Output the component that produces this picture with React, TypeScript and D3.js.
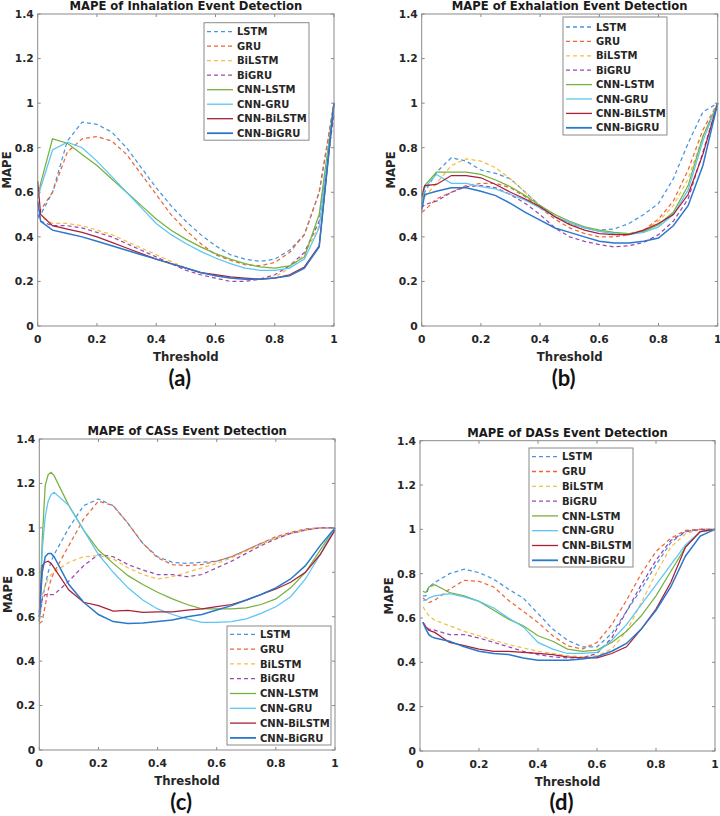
import * as d3 from 'd3';

// model order, colours and line styles as in the legends
const modelNames = ['LSTM', 'GRU', 'BiLSTM', 'BiGRU', 'CNN-LSTM', 'CNN-GRU', 'CNN-BiLSTM', 'CNN-BiGRU'];
const modelColors = ['#4a94dc', '#ee6636', '#f4bf48', '#9a48b4', '#78b040', '#5cc6f2', '#a8203a', '#2a78cc'];
const modelDashed = [true, true, true, true, false, false, false, false];

const xTicks = [0, 0.2, 0.4, 0.6, 0.8, 1];
const yTicks = [0, 0.2, 0.4, 0.6, 0.8, 1, 1.2, 1.4];

// thresholds
const xsAB = [0, 0.01, 0.05, 0.1, 0.15, 0.2, 0.25, 0.3, 0.35, 0.4, 0.45, 0.5, 0.55, 0.6, 0.65, 0.7, 0.75, 0.8, 0.85, 0.9, 0.95, 1];
const xsC = [0, 0.01, 0.02, 0.03, 0.04, 0.05, 0.1, 0.15, 0.2, 0.25, 0.3, 0.35, 0.4, 0.45, 0.5, 0.55, 0.6, 0.65, 0.7, 0.75, 0.8, 0.85, 0.9, 0.95, 1];
const xsD = [0.01, 0.02, 0.03, 0.04, 0.05, 0.1, 0.15, 0.2, 0.25, 0.3, 0.35, 0.4, 0.45, 0.5, 0.55, 0.6, 0.65, 0.7, 0.75, 0.8, 0.85, 0.9, 0.95, 1];

// (a) inhalation
const aLSTM = [0.55, 0.5, 0.6, 0.83, 0.915, 0.905, 0.87, 0.8, 0.71, 0.62, 0.54, 0.47, 0.41, 0.36, 0.32, 0.3, 0.29, 0.3, 0.34, 0.41, 0.6, 1.0];
const aGRU = [0.52, 0.52, 0.6, 0.78, 0.84, 0.85, 0.83, 0.77, 0.68, 0.59, 0.5, 0.43, 0.37, 0.32, 0.295, 0.275, 0.27, 0.285, 0.33, 0.41, 0.6, 1.0];
const aBiLSTM = [0.5, 0.49, 0.46, 0.46, 0.45, 0.43, 0.41, 0.38, 0.35, 0.32, 0.29, 0.26, 0.24, 0.225, 0.215, 0.21, 0.21, 0.22, 0.26, 0.32, 0.45, 1.0];
const aBiGRU = [0.5, 0.47, 0.45, 0.45, 0.44, 0.42, 0.4, 0.37, 0.34, 0.31, 0.28, 0.25, 0.23, 0.215, 0.2, 0.2, 0.21, 0.23, 0.27, 0.33, 0.47, 0.95];
const aCnnLSTM = [0.57, 0.64, 0.84, 0.82, 0.77, 0.72, 0.66, 0.6, 0.54, 0.48, 0.43, 0.39, 0.355, 0.325, 0.3, 0.28, 0.265, 0.26, 0.27, 0.31, 0.5, 1.0];
const aCnnGRU = [0.58, 0.62, 0.79, 0.825, 0.8, 0.74, 0.67, 0.6, 0.53, 0.46, 0.41, 0.37, 0.335, 0.305, 0.28, 0.26, 0.25, 0.25, 0.26, 0.3, 0.44, 1.0];
const aCnnBiLSTM = [0.65, 0.5, 0.45, 0.435, 0.42, 0.4, 0.375, 0.35, 0.325, 0.3, 0.28, 0.26, 0.24, 0.23, 0.22, 0.215, 0.21, 0.215, 0.23, 0.265, 0.36, 1.0];
const aCnnBiGRU = [0.56, 0.47, 0.43, 0.415, 0.4, 0.38, 0.36, 0.34, 0.32, 0.3, 0.28, 0.26, 0.24, 0.225, 0.215, 0.21, 0.21, 0.215, 0.225, 0.26, 0.355, 1.0];

// (b) exhalation
const bLSTM = [0.53, 0.6, 0.69, 0.755, 0.74, 0.7, 0.685, 0.66, 0.6, 0.54, 0.49, 0.46, 0.44, 0.43, 0.435, 0.46, 0.5, 0.55, 0.66, 0.82, 0.96, 1.0];
const bGRU = [0.51, 0.52, 0.57, 0.6, 0.63, 0.64, 0.64, 0.62, 0.58, 0.53, 0.48, 0.44, 0.415, 0.4, 0.4, 0.41, 0.43, 0.48, 0.56, 0.7, 0.88, 1.0];
const bBiLSTM = [0.55, 0.58, 0.64, 0.72, 0.75, 0.74, 0.71, 0.66, 0.6, 0.54, 0.49, 0.46, 0.44, 0.425, 0.415, 0.415, 0.43, 0.47, 0.54, 0.66, 0.85, 1.0];
const bBiGRU = [0.53, 0.545, 0.56, 0.6, 0.625, 0.63, 0.62, 0.59, 0.55, 0.5, 0.44, 0.4, 0.38, 0.365, 0.355, 0.36, 0.375, 0.41, 0.47, 0.57, 0.78, 1.0];
const bCnnLSTM = [0.55, 0.63, 0.69, 0.69, 0.69, 0.68, 0.655, 0.625, 0.585, 0.54, 0.5, 0.47, 0.445, 0.43, 0.42, 0.415, 0.425, 0.455, 0.51, 0.63, 0.85, 1.0];
const bCnnGRU = [0.53, 0.62, 0.68, 0.64, 0.64, 0.625, 0.615, 0.59, 0.565, 0.53, 0.49, 0.465, 0.44, 0.425, 0.415, 0.41, 0.42, 0.445, 0.5, 0.61, 0.83, 1.0];
const bCnnBiLSTM = [0.58, 0.63, 0.635, 0.675, 0.675, 0.665, 0.635, 0.6, 0.57, 0.535, 0.49, 0.455, 0.43, 0.415, 0.41, 0.41, 0.43, 0.46, 0.5, 0.59, 0.77, 1.0];
const bCnnBiGRU = [0.52, 0.59, 0.605, 0.62, 0.62, 0.605, 0.585, 0.55, 0.51, 0.475, 0.44, 0.42, 0.4, 0.38, 0.372, 0.372, 0.38, 0.395, 0.45, 0.54, 0.72, 1.0];

// (c) CASs
const cLSTM = [0.58, 0.68, 0.74, 0.8, 0.85, 0.88, 1.0, 1.1, 1.13, 1.1, 1.02, 0.93, 0.87, 0.845, 0.84, 0.845, 0.85, 0.87, 0.9, 0.93, 0.955, 0.975, 0.99, 1.0, 1.0];
const cGRU = [0.57, 0.58, 0.65, 0.72, 0.77, 0.8, 0.92, 1.04, 1.12, 1.1, 1.02, 0.93, 0.865, 0.835, 0.83, 0.835, 0.85, 0.87, 0.9, 0.93, 0.96, 0.98, 0.995, 1.0, 1.0];
const cBiLSTM = [0.6, 0.7, 0.74, 0.77, 0.79, 0.8, 0.845, 0.87, 0.875, 0.86, 0.82, 0.79, 0.77, 0.78, 0.8, 0.82, 0.84, 0.865, 0.895, 0.925, 0.955, 0.975, 0.99, 1.0, 1.0];
const cBiGRU = [0.6, 0.68, 0.7, 0.7, 0.7, 0.7, 0.76, 0.83, 0.88, 0.87, 0.835, 0.81, 0.79, 0.79, 0.78, 0.79, 0.82, 0.85, 0.885, 0.92, 0.95, 0.975, 0.99, 1.0, 1.0];
const cCnnLSTM = [0.58, 0.95, 1.19, 1.24, 1.25, 1.235, 1.1, 0.99, 0.9, 0.84, 0.785, 0.745, 0.71, 0.68, 0.655, 0.635, 0.635, 0.635, 0.64, 0.655, 0.68, 0.73, 0.8, 0.9, 1.0];
const cCnnGRU = [0.58, 0.9, 1.05, 1.12, 1.15, 1.16, 1.1, 0.99, 0.88, 0.8, 0.73, 0.675, 0.635, 0.61, 0.59, 0.575, 0.575, 0.578, 0.59, 0.615, 0.645, 0.69, 0.77, 0.88, 1.0];
const cCnnBiLSTM = [0.62, 0.83, 0.845, 0.85, 0.84, 0.82, 0.72, 0.665, 0.65, 0.625, 0.628, 0.62, 0.622, 0.622, 0.63, 0.635, 0.645, 0.655, 0.675, 0.7, 0.725, 0.755, 0.8, 0.88, 0.99];
const cCnnBiGRU = [0.6, 0.8, 0.87, 0.885, 0.885, 0.87, 0.745, 0.665, 0.61, 0.578, 0.57, 0.572, 0.578, 0.585, 0.6, 0.61, 0.63, 0.65, 0.675, 0.7, 0.73, 0.77, 0.83, 0.92, 1.0];

// (d) DASs
const dLSTM = [0.7, 0.7, 0.74, 0.75, 0.76, 0.8, 0.82, 0.805, 0.775, 0.73, 0.69, 0.62, 0.55, 0.5, 0.47, 0.47, 0.53, 0.63, 0.73, 0.84, 0.94, 0.99, 1.0, 1.0];
const dGRU = [0.69, 0.68, 0.67, 0.675, 0.68, 0.73, 0.77, 0.765, 0.74, 0.68, 0.63, 0.58, 0.52, 0.475, 0.46, 0.49, 0.57, 0.68, 0.8, 0.9, 0.96, 0.995, 1.0, 1.0];
const dBiLSTM = [0.65, 0.63, 0.61, 0.6, 0.59, 0.565, 0.54, 0.52, 0.5, 0.48, 0.465, 0.45, 0.44, 0.43, 0.425, 0.43, 0.46, 0.54, 0.67, 0.8, 0.92, 0.98, 1.0, 1.0];
const dBiGRU = [0.58, 0.56, 0.55, 0.548, 0.545, 0.525, 0.525, 0.51, 0.49, 0.47, 0.45, 0.435, 0.425, 0.42, 0.42, 0.44, 0.51, 0.63, 0.75, 0.86, 0.95, 0.99, 1.0, 1.0];
const dCnnLSTM = [0.72, 0.715, 0.74, 0.745, 0.75, 0.715, 0.7, 0.675, 0.635, 0.595, 0.565, 0.52, 0.495, 0.46, 0.45, 0.455, 0.49, 0.54, 0.61, 0.7, 0.81, 0.92, 0.99, 1.0];
const dCnnGRU = [0.68, 0.68, 0.69, 0.695, 0.7, 0.71, 0.695, 0.675, 0.645, 0.6, 0.56, 0.49, 0.46, 0.44, 0.44, 0.445, 0.5, 0.57, 0.66, 0.75, 0.84, 0.93, 0.99, 1.0];
const dCnnBiLSTM = [0.58, 0.56, 0.545, 0.54, 0.535, 0.49, 0.475, 0.46, 0.45, 0.45, 0.445, 0.44, 0.435, 0.425, 0.42, 0.42, 0.44, 0.47, 0.55, 0.64, 0.76, 0.92, 0.99, 1.0];
const dCnnBiGRU = [0.58, 0.55, 0.525, 0.515, 0.51, 0.495, 0.47, 0.45, 0.44, 0.435, 0.42, 0.41, 0.41, 0.41, 0.415, 0.425, 0.45, 0.485, 0.55, 0.635, 0.74, 0.88, 0.97, 1.0];

const FONT = '"DejaVu Sans", sans-serif';
const AXIS = '#8a8a8a';

interface PanelProps {
    title: string;
    tag: string;
    xs: number[];
    series: number[][];
    box: { left: number; right: number; top: number; bottom: number };
    legend: { x: number; y: number; w: number; h: number; row0: number; step: number };
    tagY: number;
}

function Panel({ title, tag, xs, series, box, legend, tagY }: PanelProps) {
    const x = d3.scaleLinear().domain([0, 1]).range([box.left, box.right]);
    const y = d3.scaleLinear().domain([0, 1.4]).range([box.bottom, box.top]);
    const cx = (box.left + box.right) / 2;
    const cy = (box.top + box.bottom) / 2;
    const line = d3
        .line<number>()
        .x((_, i) => x(xs[i]))
        .y((d) => y(d));
    const fmt = (v: number) => String(+v.toFixed(1));

    return (
        <g>
            {/* curves, dashed first so the solid ones sit on top */}
            {series.map((s, i) => (
                <path
                    key={modelNames[i]}
                    d={line(s) || ''}
                    fill="none"
                    stroke={modelColors[i]}
                    strokeWidth={i === 7 ? 1.5 : 1.25}
                    strokeDasharray={modelDashed[i] ? '4,3' : undefined}
                />
            ))}

            {/* box and inward ticks */}
            <rect
                x={box.left}
                y={box.top}
                width={box.right - box.left}
                height={box.bottom - box.top}
                fill="none"
                stroke={AXIS}
                strokeWidth={1}
            />
            {xTicks.map((t) => (
                <g key={'xt' + t}>
                    <line x1={x(t)} x2={x(t)} y1={box.bottom} y2={box.bottom - 3} stroke={AXIS} />
                    <line x1={x(t)} x2={x(t)} y1={box.top} y2={box.top + 3} stroke={AXIS} />
                    <text
                        x={x(t)}
                        y={box.bottom + 17}
                        textAnchor="middle"
                        fontFamily={FONT}
                        fontWeight="bold"
                        fontSize={10.7}
                        fill="#262626"
                    >
                        {fmt(t)}
                    </text>
                </g>
            ))}
            {yTicks.map((t) => (
                <g key={'yt' + t}>
                    <line x1={box.left} x2={box.left + 3} y1={y(t)} y2={y(t)} stroke={AXIS} />
                    <line x1={box.right} x2={box.right - 3} y1={y(t)} y2={y(t)} stroke={AXIS} />
                    <text
                        x={box.left - 4}
                        y={y(t)}
                        dy="0.36em"
                        textAnchor="end"
                        fontFamily={FONT}
                        fontWeight="bold"
                        fontSize={10.7}
                        fill="#262626"
                    >
                        {fmt(t)}
                    </text>
                </g>
            ))}

            {/* labels */}
            <text x={cx} y={box.top - 4} textAnchor="middle" fontFamily={FONT} fontWeight="bold" fontSize={11.6} fill="#1a1a1a">
                {title}
            </text>
            <text x={cx} y={box.bottom + 35} textAnchor="middle" fontFamily={FONT} fontWeight="bold" fontSize={11.7} fill="#262626">
                Threshold
            </text>
            <text
                transform={`translate(${box.left - 27},${cy}) rotate(-90)`}
                textAnchor="middle"
                fontFamily={FONT}
                fontWeight="bold"
                fontSize={11.7}
                fill="#262626"
            >
                MAPE
            </text>
            <text x={cx - 6} y={tagY} textAnchor="middle" fontFamily="Lato, sans-serif" fontWeight="bold" fontSize={22} fill="#111">
                {tag}
            </text>

            {/* legend */}
            <rect x={legend.x} y={legend.y} width={legend.w} height={legend.h} fill="#fff" stroke={AXIS} strokeWidth={1} />
            {modelNames.map((name, i) => {
                const ry = legend.row0 + i * legend.step;
                return (
                    <g key={'lg' + name}>
                        <line
                            x1={legend.x + 3}
                            x2={legend.x + 29}
                            y1={ry}
                            y2={ry}
                            stroke={modelColors[i]}
                            strokeWidth={i === 7 ? 1.8 : 1.3}
                            strokeDasharray={modelDashed[i] ? '4,3' : undefined}
                        />
                        <text x={legend.x + 33} y={ry} dy="0.36em" fontFamily={FONT} fontWeight="bold" fontSize={10} fill="#262626">
                            {name}
                        </text>
                    </g>
                );
            })}
        </g>
    );
}

export default function App() {
    return (
        <svg
            width={720}
            height={816}
            viewBox="0 0 720 816"
            style={{ position: 'absolute', left: 0, top: 0, background: '#fff' }}
        >
            <rect width={720} height={816} fill="#fff" />
            <Panel
                title="MAPE of Inhalation Event Detection"
                tag="(a)"
                xs={xsAB}
                series={[aLSTM, aGRU, aBiLSTM, aBiGRU, aCnnLSTM, aCnnGRU, aCnnBiLSTM, aCnnBiGRU]}
                box={{ left: 37.7, right: 334, top: 14, bottom: 326 }}
                legend={{ x: 204, y: 22.7, w: 105, h: 117.5, row0: 31.7, step: 14.5 }}
                tagY={386}
            />
            <Panel
                title="MAPE of Exhalation Event Detection"
                tag="(b)"
                xs={xsAB}
                series={[bLSTM, bGRU, bBiLSTM, bBiGRU, bCnnLSTM, bCnnGRU, bCnnBiLSTM, bCnnBiGRU]}
                box={{ left: 421.7, right: 717.7, top: 14, bottom: 326 }}
                legend={{ x: 563, y: 17, w: 104, h: 118, row0: 27, step: 14.4 }}
                tagY={386}
            />
            <Panel
                title="MAPE of CASs Event Detection"
                tag="(c)"
                xs={xsC}
                series={[cLSTM, cGRU, cBiLSTM, cBiGRU, cCnnLSTM, cCnnGRU, cCnnBiLSTM, cCnnBiGRU]}
                box={{ left: 39.3, right: 335, top: 439, bottom: 750 }}
                legend={{ x: 227, y: 626, w: 104, h: 119, row0: 634.3, step: 14.8 }}
                tagY={810}
            />
            <Panel
                title="MAPE of DASs Event Detection"
                tag="(d)"
                xs={xsD}
                series={[dLSTM, dGRU, dBiLSTM, dBiGRU, dCnnLSTM, dCnnGRU, dCnnBiLSTM, dCnnBiGRU]}
                box={{ left: 420, right: 715, top: 440.7, bottom: 751 }}
                legend={{ x: 529, y: 448, w: 104, h: 119, row0: 456.7, step: 14.8 }}
                tagY={810}
            />
        </svg>
    );
}
